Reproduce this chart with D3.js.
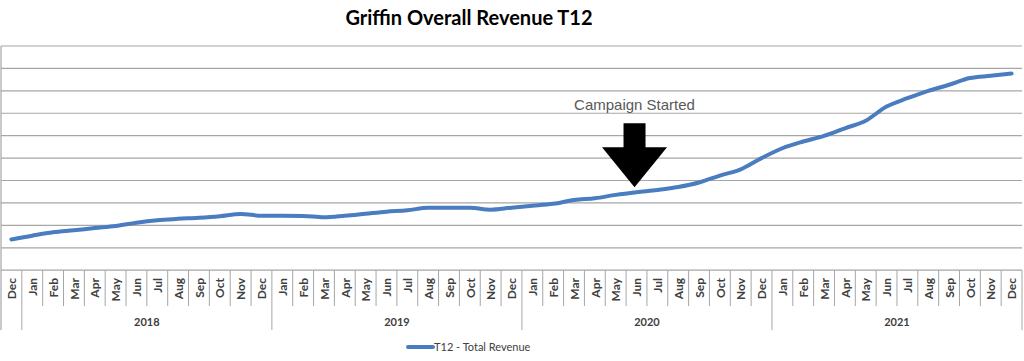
<!DOCTYPE html>
<html>
<head>
<meta charset="utf-8">
<script src="https://cdn.jsdelivr.net/npm/d3@7"></script>
<style>
  html, body { margin: 0; padding: 0; background: #fff; }
  svg { display: block; }
</style>
</head>
<body>
<div id="chart"></div>
<script>
// month labels along the axis, Dec 2017 .. Dec 2021
const months = ["Dec",
  "Jan","Feb","Mar","Apr","May","Jun","Jul","Aug","Sep","Oct","Nov","Dec",
  "Jan","Feb","Mar","Apr","May","Jun","Jul","Aug","Sep","Oct","Nov","Dec",
  "Jan","Feb","Mar","Apr","May","Jun","Jul","Aug","Sep","Oct","Nov","Dec",
  "Jan","Feb","Mar","Apr","May","Jun","Jul","Aug","Sep","Oct","Nov","Dec"];

// year groups under the months (first Dec has no visible year)
const years = ["", "2018", "2019", "2020", "2021"];
const yearSpans = [1, 12, 12, 12, 12];

// T12 total revenue, in gridline units (no value axis shown on the chart)
const revenue = [1.37,
  1.54, 1.69, 1.78, 1.88, 1.97, 2.12, 2.23, 2.29, 2.34, 2.41, 2.51, 2.43,
  2.43, 2.42, 2.36, 2.43, 2.52, 2.61, 2.67, 2.79, 2.78, 2.78, 2.70, 2.79,
  2.87, 2.96, 3.13, 3.21, 3.36, 3.48, 3.58, 3.71, 3.91, 4.22, 4.50, 5.00,
  5.44, 5.74, 5.99, 6.33, 6.67, 7.30, 7.67, 8.00, 8.27, 8.57, 8.67, 8.77];

const gridTicks = [0, 1, 2, 3, 4, 5, 6, 7, 8, 9, 10];
const campaignIndex = 30; // Jun 2020

const width = 1024, height = 361;
const plot = { left: 1, right: 1022, top: 46, bottom: 270.2 };

const svg = d3.select('#chart').append('svg')
  .attr('width', width)
  .attr('height', height);

const keys = months.map((m, i) => i);
const x = d3.scaleBand().domain(keys).range([plot.left, plot.right]).padding(0);
const y = d3.scaleLinear().domain([0, 10]).range([plot.bottom, plot.top]);

// title
svg.append('text')
  .attr('x', 469)
  .attr('y', 25)
  .attr('text-anchor', 'middle')
  .style('font-family', 'Lato, sans-serif')
  .style('font-weight', 'bold')
  .style('font-size', '20px')
  .style('fill', '#000')
  .text('Griffin Overall Revenue T12');

// horizontal gridlines
svg.append('g').selectAll('line')
  .data(gridTicks)
  .join('line')
  .attr('x1', plot.left)
  .attr('x2', plot.right)
  .attr('y1', d => y(d))
  .attr('y2', d => y(d))
  .style('stroke', '#a6a6a6')
  .style('stroke-width', 1.2);

// left border
svg.append('line')
  .attr('x1', plot.left).attr('x2', plot.left)
  .attr('y1', plot.top).attr('y2', 330)
  .style('stroke', '#a6a6a6')
  .style('stroke-width', 1.2);

// month tick lines at band edges
const yearEdges = d3.cumsum(yearSpans);
const edges = d3.range(1, months.length + 1);
svg.append('g').selectAll('line')
  .data(edges)
  .join('line')
  .attr('x1', d => x(0) + d * x.bandwidth())
  .attr('x2', d => x(0) + d * x.bandwidth())
  .attr('y1', plot.bottom)
  .attr('y2', d => yearEdges.includes(d) ? 330 : 306)
  .style('stroke', '#a6a6a6')
  .style('stroke-width', 1);

// month labels
svg.append('g').selectAll('text')
  .data(months)
  .join('text')
  .attr('transform', (d, i) => `translate(${x(i) + x.bandwidth() / 2 + 0.5},278) rotate(-90)`)
  .attr('text-anchor', 'end')
  .attr('dy', '0.35em')
  .style('font-family', 'Lato, sans-serif')
  .style('font-weight', 'bold')
  .style('font-size', '12px')
  .style('fill', '#404040')
  .text(d => d);

// year labels
let start = 0;
years.forEach((yr, i) => {
  const x0 = x(0) + start * x.bandwidth();
  const x1 = x0 + yearSpans[i] * x.bandwidth();
  start += yearSpans[i];
  svg.append('text')
    .attr('x', (x0 + x1) / 2)
    .attr('y', 326)
    .attr('text-anchor', 'middle')
    .style('font-family', 'Lato, sans-serif')
    .style('font-weight', 'bold')
    .style('font-size', '11px')
    .style('fill', '#404040')
    .text(yr);
});

// revenue line
const line = d3.line()
  .x((d, i) => x(i) + x.bandwidth() / 2)
  .y(d => y(d))
  .curve(d3.curveMonotoneX);

svg.append('path')
  .datum(revenue)
  .attr('d', line)
  .style('fill', 'none')
  .style('stroke', '#4a7cc0')
  .style('stroke-width', 4)
  .style('stroke-linecap', 'round')
  .style('stroke-linejoin', 'round');

// campaign annotation: arrow pointing at Jun 2020
const ax = x(campaignIndex) + x.bandwidth() / 2 - 2;
const ay = y(revenue[campaignIndex]) - 5;
const arrow = [
  [ax - 11, ay - 64], [ax + 11, ay - 64], [ax + 11, ay - 40],
  [ax + 32.5, ay - 40], [ax, ay], [ax - 32.5, ay - 40], [ax - 11, ay - 40]
];
svg.append('path')
  .attr('d', d3.line()(arrow) + 'Z')
  .style('fill', '#000');

svg.append('text')
  .attr('x', ax)
  .attr('y', 110)
  .attr('text-anchor', 'middle')
  .style('font-family', '"Liberation Sans", Arial, sans-serif')
  .style('font-size', '15px')
  .style('fill', '#595959')
  .text('Campaign Started');

// legend
svg.append('line')
  .attr('x1', 408).attr('x2', 433)
  .attr('y1', 347).attr('y2', 347)
  .style('stroke', '#4a7cc0')
  .style('stroke-width', 4)
  .style('stroke-linecap', 'round');

svg.append('text')
  .attr('x', 434)
  .attr('y', 351)
  .style('font-family', 'Lato, sans-serif')
  .style('font-size', '11px')
  .style('fill', '#404040')
  .text('T12 - Total Revenue');
</script>
</body>
</html>
